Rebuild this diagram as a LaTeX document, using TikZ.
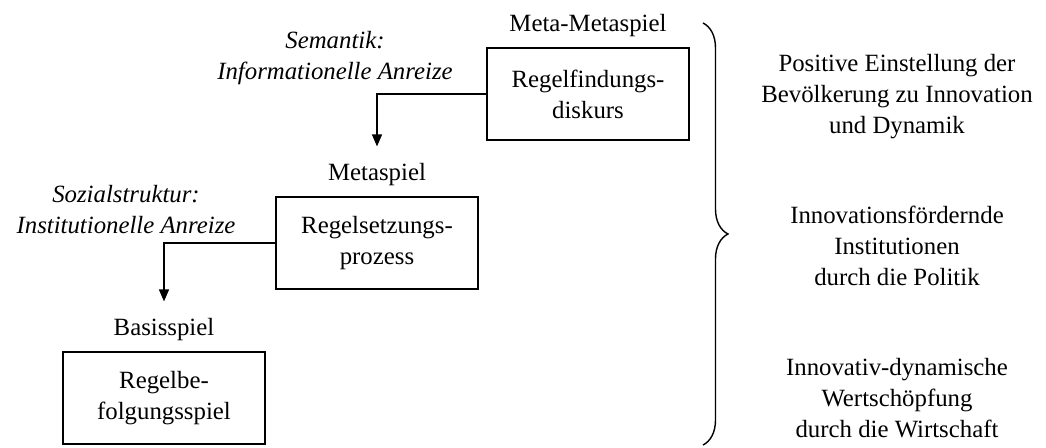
\documentclass[tikz,border=0pt]{standalone}
\usepackage{fontspec}
\setmainfont{Liberation Serif}
\usetikzlibrary{arrows.meta,positioning,decorations.pathreplacing}

\begin{document}
\begin{tikzpicture}[x=0.5pt,y=-0.5pt,>={Triangle[length=6pt,width=5pt]},
  line width=0.7pt,node distance=3pt,
  every node/.style={font=\fontsize{12.4pt}{15.5pt}\selectfont},
  game node/.style={rectangle,draw,align=center,
  minimum width=101pt,minimum height=46pt},
  title node/.style={inner sep=2pt},
  incentive node/.style={align=center,
  font=\fontsize{12.4pt}{15.5pt}\selectfont\itshape},
  effect node/.style={align=center}]

  \useasboundingbox (0,0) rectangle (1046,448);

  % the three games
  \node[game node] (MM) at (588,94)  {Regelfindungs-\\diskurs};
  \node[game node] (M)  at (377,243) {Regelsetzungs-\\prozess};
  \node[game node] (B)  at (164,398) {Regelbe-\\folgungsspiel};

  \node[title node] (MMt) [above=of MM] {Meta-Metaspiel};
  \node[title node] (Mt)  [above=of M]  {Metaspiel};
  \node[title node] (Bt)  [above=of B]  {Basisspiel};

  % incentives
  \node[incentive node] (sem) at (335,58)  {Semantik:\\Informationelle Anreize};
  \node[incentive node] (soz) at (126,210) {Sozialstruktur:\\Institutionelle Anreize};

  \coordinate[above=6pt of Mt] (a1);
  \coordinate[above=6pt of Bt] (a2);
  \draw[->] (MM.west) -| (a1);
  \draw[->] (M.west) -| (a2);

  % brace and effects
  \coordinate (btop) at (703,23);
  \coordinate (bbot) at (703,445);
  \draw[decorate,decoration={brace,amplitude=12.5pt}] (btop) -- (bbot);

  \node[effect node] (E1) at (897,97)  {Positive Einstellung der\\Bevölkerung zu Innovation\\und Dynamik};
  \node[effect node] (E2) at (897,246) {Innovationsfördernde\\Institutionen\\durch die Politik};
  \node[effect node] (E3) at (897,398) {Innovativ-dynamische\\Wertschöpfung\\durch die Wirtschaft};

\end{tikzpicture}
\end{document}
